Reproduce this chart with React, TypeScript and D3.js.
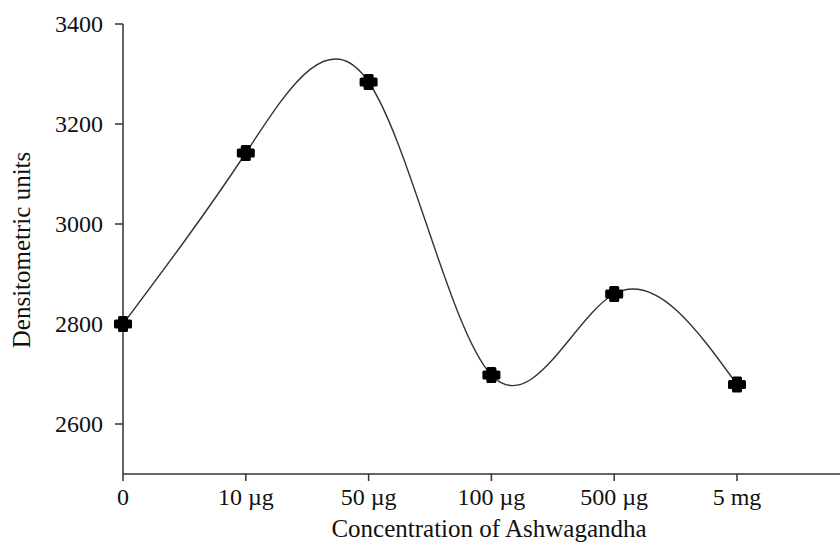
import React from "react";
import * as d3 from "d3";

const categories = ["0", "10 µg", "50 µg", "100 µg", "500 µg", "5 mg"];
const values = [2800, 3142, 3284, 2698, 2860, 2679];
const yTicks = [2600, 2800, 3000, 3200, 3400];
const xTitle = "Concentration of Ashwagandha";
const yTitle = "Densitometric units";

const W = 840;
const H = 544;
const FONT = "'Liberation Serif', 'Times New Roman', serif";

export default function App() {
  const x = d3.scalePoint<string>().domain(categories).range([123, 737]);
  const y = d3.scaleLinear().domain([2500, 3400]).range([474, 24]);
  const pts: [number, number][] = categories.map((c, i) => [x(c) as number, y(values[i])]);
  const line = d3.line().curve(d3.curveNatural);
  const d = line(pts) || "";
  const x0 = 123;
  const yBase = y(2500);

  return (
    <svg
      width={W}
      height={H}
      style={{ position: "absolute", left: 0, top: 0, background: "#fff", display: "block" }}
      fontFamily={FONT}
    >
      <rect width={W} height={H} fill="#fff" />
      {/* Y axis */}
      <line x1={x0} x2={x0} y1={y(3400)} y2={yBase} stroke="#333" strokeWidth={1.5} />
      {yTicks.map((t) => (
        <g key={t}>
          <line x1={x0 - 8} x2={x0} y1={y(t)} y2={y(t)} stroke="#333" strokeWidth={1.5} />
          <text x={103} y={y(t) + 8} textAnchor="end" fontSize={24} fill="#111">
            {t}
          </text>
        </g>
      ))}
      {/* X axis */}
      <line x1={x0} x2={W} y1={yBase} y2={yBase} stroke="#333" strokeWidth={1.5} />
      {categories.map((c) => (
        <g key={c}>
          <line x1={x(c)} x2={x(c)} y1={yBase} y2={yBase + 7} stroke="#333" strokeWidth={1.5} />
          <text x={x(c)} y={505} textAnchor="middle" fontSize={24} fill="#111">
            {c}
          </text>
        </g>
      ))}
      <text x={489} y={537} textAnchor="middle" fontSize={25} fill="#111">
        {xTitle}
      </text>
      <text
        transform={`translate(30,250) rotate(-90)`}
        textAnchor="middle"
        fontSize={25}
        fill="#111"
      >
        {yTitle}
      </text>
      {/* curve */}
      <path d={d} fill="none" stroke="#333" strokeWidth={1.4} />
      {/* markers */}
      {pts.map(([px, py], i) => (
        <g key={i} fill="#000">
          <rect x={px - 9} y={py - 4.5} width={18} height={9} rx={1.5} />
          <rect x={px - 5} y={py - 8} width={10} height={16} rx={1.5} />
        </g>
      ))}
    </svg>
  );
}
